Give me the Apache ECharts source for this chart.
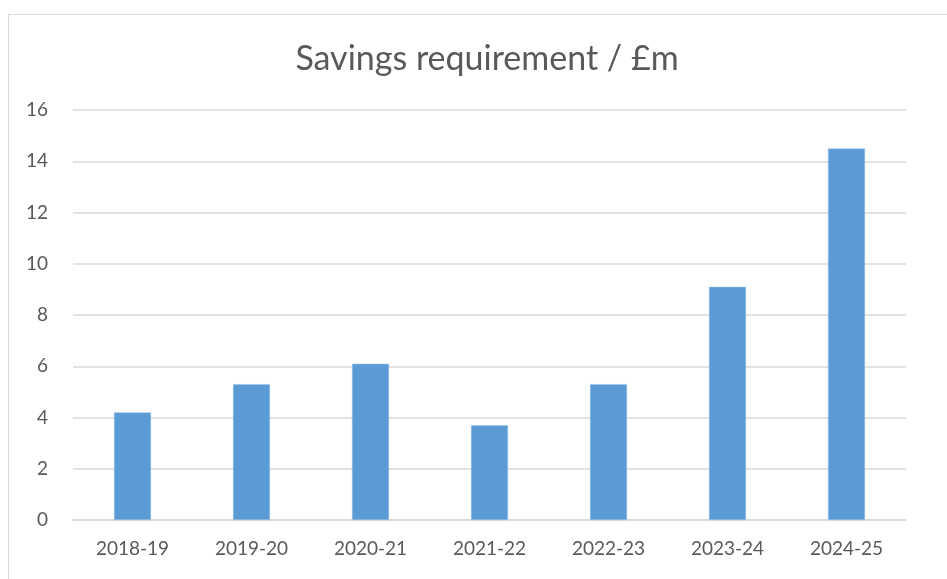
<!DOCTYPE html>
<html>
<head>
<meta charset="utf-8">
<script src="https://cdn.jsdelivr.net/npm/echarts@6/dist/echarts.min.js"></script>
<style>
html,body{margin:0;padding:0;background:#fff;}
#main{width:947px;height:579px;}
</style>
</head>
<body>
<div id="main"></div>
<script>
var years = ['2018-19','2019-20','2020-21','2021-22','2022-23','2023-24','2024-25'];
var savings = [4.2, 5.3, 6.1, 3.7, 5.3, 9.1, 14.5];

var chart = echarts.init(document.getElementById('main'));
chart.setOption({
    animation:false,
    backgroundColor:'#fff',
    title:{
        text:'Savings requirement / £m',
        left:482, top:37, textAlign:'center',
        textStyle:{fontFamily:'Lato',fontSize:34,fontWeight:'normal',color:'#595959'}
    },
    graphic:[
        {type:'line',shape:{x1:8,y1:14.5,x2:947,y2:14.5},style:{stroke:'#d9d9d9',lineWidth:1}},
        {type:'line',shape:{x1:8.5,y1:14,x2:8.5,y2:579},style:{stroke:'#d9d9d9',lineWidth:1}}
    ],
    grid:{left:73,right:41,top:110,bottom:59},
    xAxis:{
        type:'category',data:years,
        axisTick:{show:false},
        axisLine:{lineStyle:{color:'#d9d9d9',width:1.5}},
        axisLabel:{color:'#595959',fontFamily:'Lato',fontSize:19,margin:19}
    },
    yAxis:{
        type:'value',min:0,max:16,interval:2,
        axisLine:{show:false},axisTick:{show:false},
        splitLine:{lineStyle:{color:'#d9d9d9',width:1.5}},
        axisLabel:{color:'#595959',fontFamily:'Lato',fontSize:19,margin:25}
    },
    series:[{
        name:'Savings requirement',type:'bar',data:savings,
        barWidth:37,
        itemStyle:{color:'#5b9bd5',borderColor:'#9dc3e6',borderWidth:0.5}
    }]
});
</script>
</body>
</html>
